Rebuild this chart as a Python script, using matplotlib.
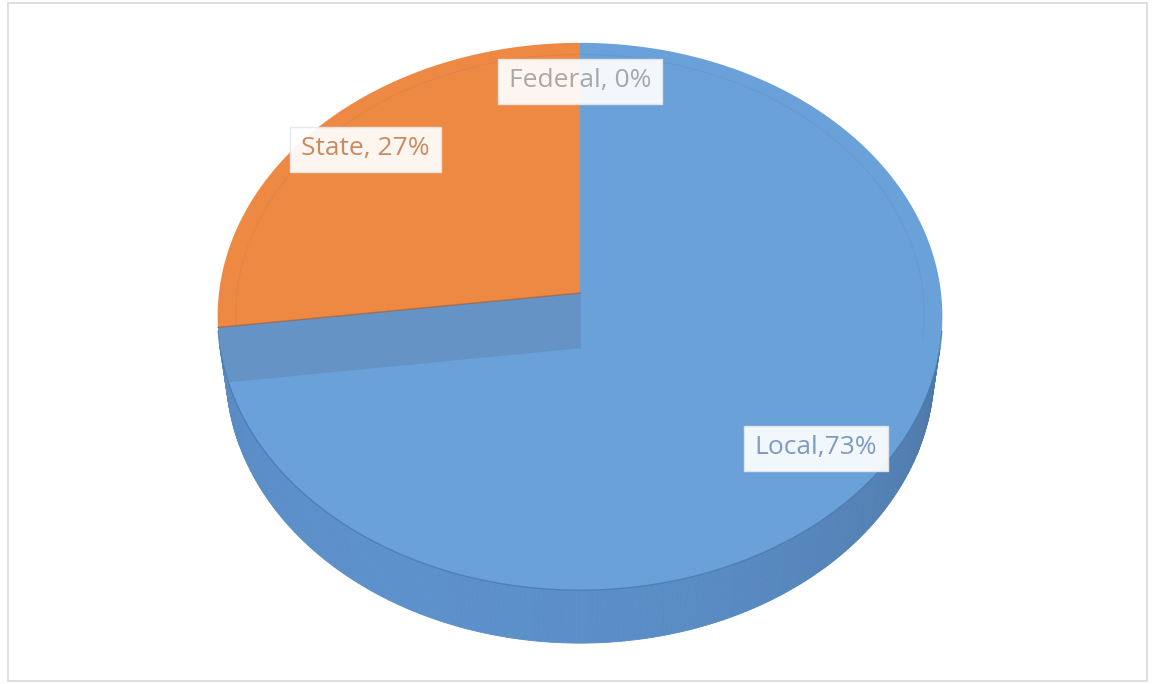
import numpy as np
import matplotlib
matplotlib.use("Agg")
import matplotlib.pyplot as plt
from matplotlib.patches import Polygon, Rectangle

# Revenue sources
categories = ["Local", "State", "Federal"]
shares = [73, 27, 0]
label_texts = ["Local,73%", "State, 27%", "Federal, 0%"]

top_colors = ["#69A1D8", "#EE8943", "#A5A5A5"]
side_colors = ["#5A8CC4", "#D9722C", "#8C8C8C"]
text_colors = ["#7E9BC0", "#C98B60", "#A8A8A8"]

# camera / projection for the tilted disc
ELEV = np.radians(48.8)
DIST = 7.67
FOCAL = 2769.0
THICK = 0.238
CX, CY = 580.0, 293.0
SE, CE = np.sin(ELEV), np.cos(ELEV)


def proj(x, y, z):
    x, y, z = np.asarray(x, float), np.asarray(y, float), np.asarray(z, float)
    depth = DIST + y * CE - z * SE
    up = y * SE + z * CE
    return CX + FOCAL * x / depth, CY - FOCAL * up / depth


def shade(hex_color, k):
    rgb = np.array(matplotlib.colors.to_rgb(hex_color))
    return tuple(np.clip(rgb * k, 0, 1))


fig = plt.figure(figsize=(11.54, 6.84), dpi=100)
ax = fig.add_axes([0, 0, 1, 1])
ax.set_xlim(0, 1154)
ax.set_ylim(684, 0)
ax.axis("off")

# chart frame
ax.add_patch(Rectangle((8, 3), 1139, 678, facecolor="white",
                       edgecolor="#D9D9D9", linewidth=1.2, zorder=0))

fracs = np.array(shares, float) / sum(shares)
starts = 90 - 360 * np.concatenate([[0], np.cumsum(fracs)[:-1]])
ends = starts - 360 * fracs

light = np.array([-0.45, -0.85, 0.3])
light /= np.linalg.norm(light)

# outer side walls (only the part facing the viewer)
for i in range(len(categories)):
    if fracs[i] == 0:
        continue
    th = np.radians(np.linspace(ends[i], starts[i], 400))
    for t0, t1 in zip(th[:-1], th[1:]):
        tm = 0.5 * (t0 + t1)
        if -1 - DIST * CE * np.sin(tm) <= 0:
            continue
        xs, ys = proj([np.cos(t0), np.cos(t1), np.cos(t1), np.cos(t0)],
                      [np.sin(t0), np.sin(t1), np.sin(t1), np.sin(t0)],
                      [0, 0, -THICK, -THICK])
        lam = np.dot([np.cos(tm), np.sin(tm), 0], light)
        col = shade(side_colors[i], 0.9 + 0.14 * lam)
        ax.add_patch(Polygon(np.c_[xs, ys], closed=True, facecolor=col,
                             edgecolor=col, linewidth=0.6, zorder=2))

# top faces
for i in range(len(categories)):
    if fracs[i] == 0:
        continue
    th = np.radians(np.linspace(starts[i], ends[i], 400))
    xs, ys = proj(np.r_[0, np.cos(th)], np.r_[0, np.sin(th)], np.zeros(len(th) + 1))
    ax.add_patch(Polygon(np.c_[xs, ys], closed=True, facecolor=top_colors[i],
                         edgecolor="none", zorder=3))

# faint bevel ring on the far half of the top face
th = np.radians(np.linspace(-10, 190, 300))
bx, by = proj(0.95 * np.cos(th), 0.95 * np.sin(th), np.zeros_like(th))
ax.plot(bx, by, color="#3C5A80", linewidth=0.8, alpha=0.08, zorder=3.5)

# cut face along the Local/State boundary
b = np.radians(ends[0])
xs, ys = proj([0, np.cos(b), np.cos(b), 0], [0, np.sin(b), np.sin(b), 0],
              [0, 0, -THICK, -THICK])
ax.add_patch(Polygon(np.c_[xs, ys], closed=True, facecolor="#6593C6",
                     edgecolor="none", alpha=0.95, zorder=4))
ax.plot([xs[0], xs[1]], [ys[0], ys[1]], color=shade(side_colors[1], 0.75),
        linewidth=1.0, alpha=0.6, zorder=5)
ax.plot([xs[0], xs[3]], [ys[0], ys[3]], color="#5F8FC2",
        linewidth=0.8, alpha=0.5, zorder=5)

# front rim between top face and side wall
th = np.radians(np.linspace(188, 352, 300))
rx, ry = proj(np.cos(th), np.sin(th), np.zeros_like(th))
ax.plot(rx, ry, color="#4678AE", linewidth=1.0, alpha=0.75, zorder=5)

# data labels with padded boxes sized from the rendered text
LABEL_R = 0.83
PAD_X, PAD_Y = 11, 10
fig.canvas.draw()
renderer = fig.canvas.get_renderer()
inv = ax.transData.inverted()
for i in range(len(categories)):
    mid = np.radians(0.5 * (starts[i] + ends[i]))
    lx, ly = proj(LABEL_R * np.cos(mid), LABEL_R * np.sin(mid), 0.0)
    t = ax.text(float(lx), float(ly) - 2, label_texts[i], ha="center", va="center",
                fontsize=19, family=["Open Sans", "DejaVu Sans"],
                color=text_colors[i], zorder=7)
    bb = t.get_window_extent(renderer)
    (x0, y1), (x1, y0) = inv.transform([[bb.x0, bb.y0], [bb.x1, bb.y1]])
    ax.add_patch(Rectangle((x0 - PAD_X, y0 - PAD_Y + 1), (x1 - x0) + 2 * PAD_X,
                           (y1 - y0) + 2 * PAD_Y, facecolor="white", alpha=0.92,
                           edgecolor="#E6E6E6", linewidth=1.0, zorder=6))

fig.savefig("out.png", dpi=100)
